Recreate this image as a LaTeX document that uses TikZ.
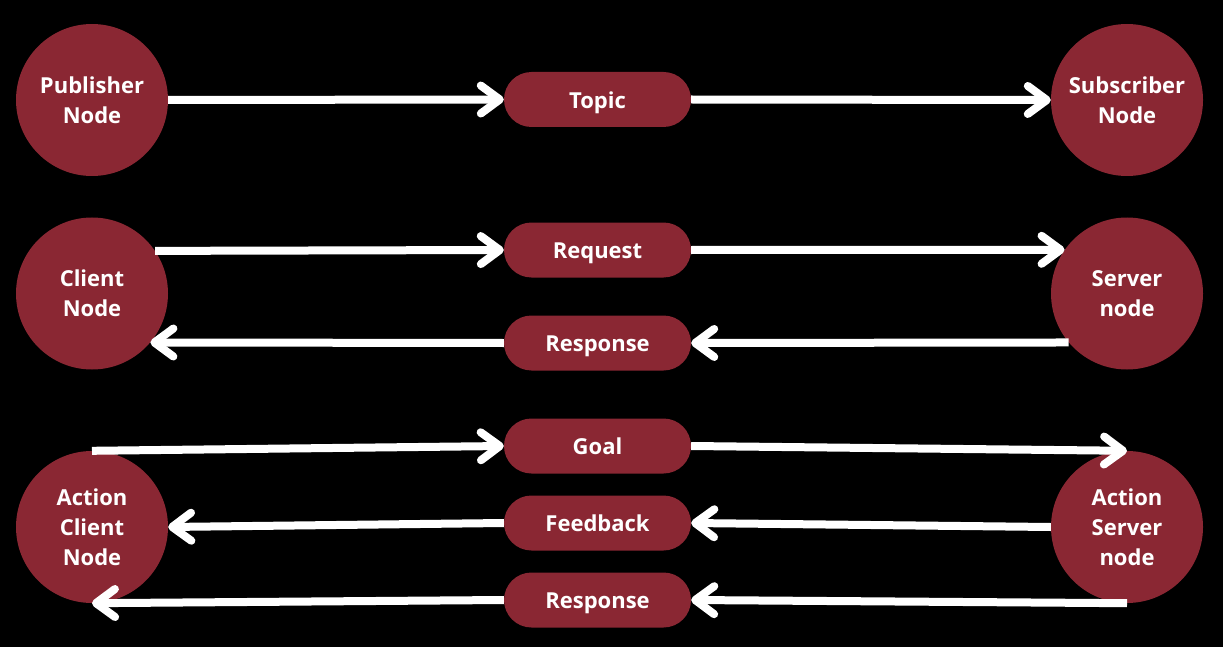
\documentclass[tikz,border=0pt]{standalone}
\usepackage{fontspec}
\setmainfont{Open Sans}
\usetikzlibrary{arrows.meta}
\definecolor{wine}{HTML}{8A2733}
\begin{document}
\begin{tikzpicture}[x=1pt,y=-1pt,
  ros/.style={circle, fill=wine, minimum size=152pt, inner sep=0pt, text=white,
    font=\bfseries\fontsize{22}{30}\selectfont, align=center},
  msg/.style={rounded corners=27.5pt, fill=wine, minimum width=187pt, minimum height=55pt,
    inner sep=0pt, text=white, text height=18pt, text depth=0.4pt,
    font=\bfseries\fontsize{22}{30}\selectfont},
  link/.style={draw=white, line width=8pt, -{Straight Barb[length=19pt,width=28pt,round]}}]
\fill[black] (0,0) rectangle (1223,647);
\useasboundingbox (0,0) rectangle (1223,647);
% row 1
\node[ros] (pub) at (92,100) {Publisher\\Node};
\node[ros] (sub) at (1127,100) {Subscriber\\Node};
\node[msg] (topic) at (597.5,99.5) {Topic};
\draw[link] (pub.east) -- (topic.west);
\draw[link] (topic.east) -- (sub.west);
% row 2
\node[ros] (cli) at (92,293.5) {Client\\Node};
\node[ros] (srv) at (1127,293.5) {Server\\node};
\node[msg] (req) at (597.5,250) {Request};
\node[msg] (res) at (597.5,343) {Response};
\draw[link] (cli.34.5) -- (req.west);
\draw[link] (req.east) -- (srv.145.5);
\draw[link] (srv.220) -- (res.east);
\draw[link] (res.west) -- (cli.-40);
% row 3
\node[ros] (acli) at (92,527) {Action\\Client\\Node};
\node[ros] (asrv) at (1127,527) {Action\\Server\\node};
\node[msg] (goal) at (597.5,446) {Goal};
\node[msg] (fb) at (597.5,523) {Feedback};
\node[msg] (ares) at (597.5,600) {Response};
\draw[link] (acli.north) -- (goal.west);
\draw[link] (goal.east) -- (asrv.north);
\draw[link] (asrv.west) -- (fb.east);
\draw[link] (fb.west) -- (acli.east);
\draw[link] (asrv.south) -- (ares.east);
\draw[link] (ares.west) -- (acli.south);
\end{tikzpicture}
\end{document}
